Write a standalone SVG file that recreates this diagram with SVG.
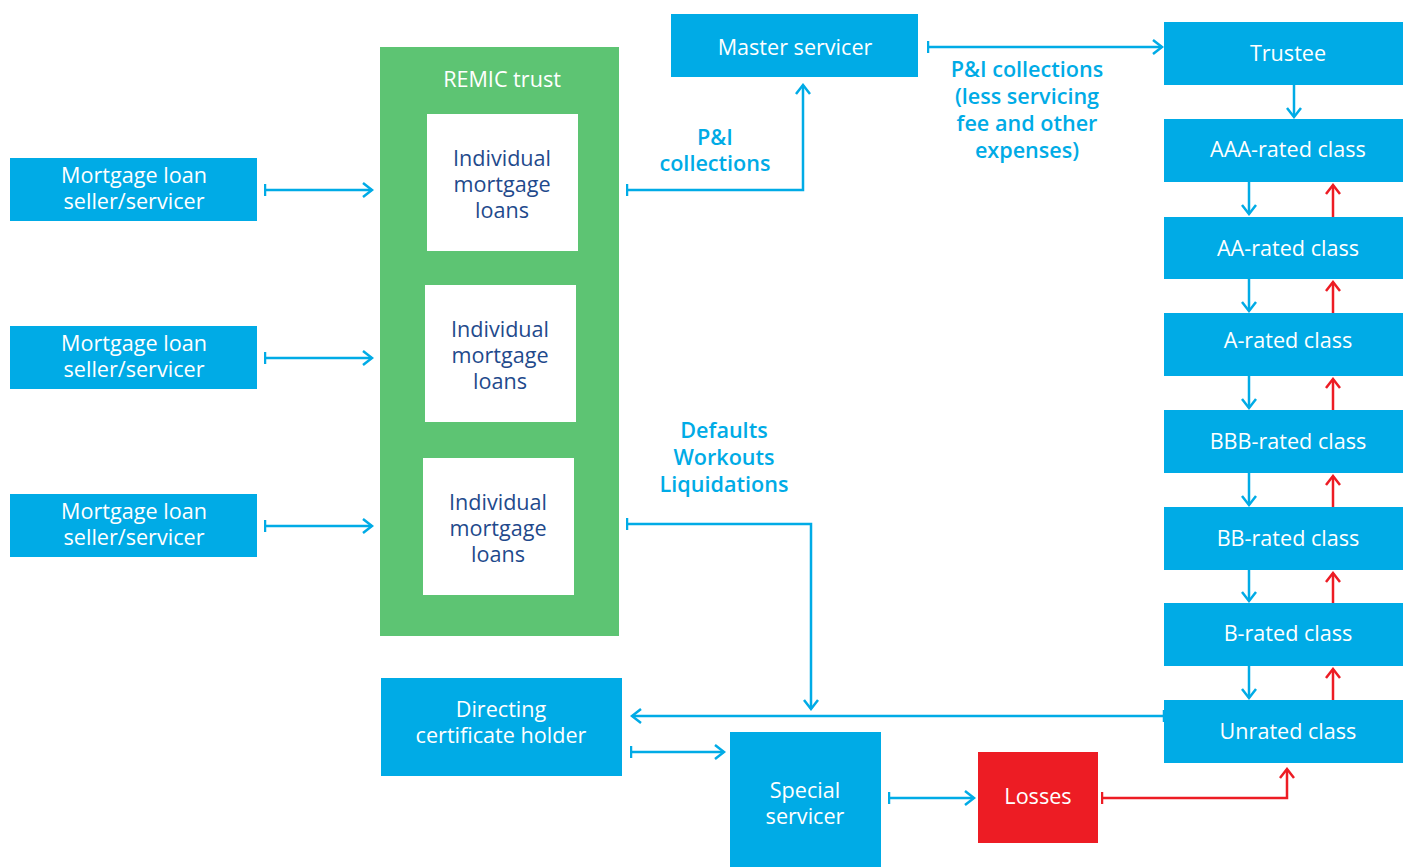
<svg xmlns="http://www.w3.org/2000/svg" width="1403" height="867" viewBox="0 0 1403 867">
<defs>
<style>
.b{fill:#00abe6}
.t{font-family:"Open Sans","Noto Sans",sans-serif;font-size:21.6px;fill:#fff;text-anchor:middle}
.n{font-family:"Open Sans","Noto Sans",sans-serif;font-size:21.6px;fill:#1f4a8c;text-anchor:middle}
.l{font-family:"Open Sans","Noto Sans",sans-serif;font-size:21.6px;font-weight:600;fill:#00abe6;text-anchor:middle}
.c{fill:none;stroke:#00abe6;stroke-width:2.5}
.r{fill:none;stroke:#ed1c24;stroke-width:2.5}
</style>
<marker id="ab" markerWidth="12" markerHeight="16" refX="10" refY="8" orient="auto" markerUnits="userSpaceOnUse"><path d="M1,1 L10,8 L1,15" fill="none" stroke="#00abe6" stroke-width="2.5"/></marker>
<marker id="ar" markerWidth="12" markerHeight="16" refX="10" refY="8" orient="auto" markerUnits="userSpaceOnUse"><path d="M1,1 L10,8 L1,15" fill="none" stroke="#ed1c24" stroke-width="2.5"/></marker>
<marker id="tb" markerWidth="4" markerHeight="16" refX="1.5" refY="8" orient="auto" markerUnits="userSpaceOnUse"><path d="M1.5,2 L1.5,14" stroke="#00abe6" stroke-width="2.5"/></marker>
<marker id="tr" markerWidth="4" markerHeight="16" refX="1.5" refY="8" orient="auto" markerUnits="userSpaceOnUse"><path d="M1.5,2 L1.5,14" stroke="#ed1c24" stroke-width="2.5"/></marker>
</defs>
<rect width="1403" height="867" fill="#fff"/>
<g id="seller1"><rect class="b" x="10" y="158" width="247" height="63"/><text class="t" x="134" y="183">Mortgage loan</text><text class="t" x="134" y="209">seller/servicer</text></g>
<g id="seller2"><rect class="b" x="10" y="326" width="247" height="63"/><text class="t" x="134" y="351">Mortgage loan</text><text class="t" x="134" y="377">seller/servicer</text></g>
<g id="seller3"><rect class="b" x="10" y="494" width="247" height="63"/><text class="t" x="134" y="519">Mortgage loan</text><text class="t" x="134" y="545">seller/servicer</text></g>
<g id="remic"><rect x="380" y="47" width="239" height="589" fill="#5dc473"/><text class="t" x="502" y="87">REMIC trust</text>
<rect x="427" y="114" width="151" height="137" fill="#fff"/><text class="n" x="502" y="166">Individual</text><text class="n" x="502" y="192">mortgage</text><text class="n" x="502" y="218">loans</text>
<rect x="425" y="285" width="151" height="137" fill="#fff"/><text class="n" x="500" y="337">Individual</text><text class="n" x="500" y="363">mortgage</text><text class="n" x="500" y="389">loans</text>
<rect x="423" y="458" width="151" height="137" fill="#fff"/><text class="n" x="498" y="510">Individual</text><text class="n" x="498" y="536">mortgage</text><text class="n" x="498" y="562">loans</text></g>
<g id="master"><rect class="b" x="671" y="14" width="247" height="63"/><text class="t" x="795" y="55">Master servicer</text></g>
<g id="trustee"><rect class="b" x="1164" y="22" width="239" height="63"/><text class="t" x="1288" y="61">Trustee</text></g>
<g id="aaa"><rect class="b" x="1164" y="119" width="239" height="63"/><text class="t" x="1288" y="157">AAA-rated class</text></g>
<g id="aa"><rect class="b" x="1164" y="217" width="239" height="62"/><text class="t" x="1288" y="256">AA-rated class</text></g>
<g id="a"><rect class="b" x="1164" y="313" width="239" height="63"/><text class="t" x="1288" y="348">A-rated class</text></g>
<g id="bbb"><rect class="b" x="1164" y="410" width="239" height="63"/><text class="t" x="1288" y="449">BBB-rated class</text></g>
<g id="bb"><rect class="b" x="1164" y="507" width="239" height="63"/><text class="t" x="1288" y="546">BB-rated class</text></g>
<g id="b"><rect class="b" x="1164" y="603" width="239" height="63"/><text class="t" x="1288" y="641">B-rated class</text></g>
<g id="unrated"><rect class="b" x="1164" y="700" width="239" height="63"/><text class="t" x="1288" y="739">Unrated class</text></g>
<g id="directing"><rect class="b" x="381" y="678" width="241" height="98"/><text class="t" x="501" y="717">Directing</text><text class="t" x="501" y="743">certificate holder</text></g>
<g id="special"><rect class="b" x="730" y="732" width="151" height="135"/><text class="t" x="805" y="798">Special</text><text class="t" x="805" y="824">servicer</text></g>
<g id="losses"><rect x="978" y="752" width="120" height="91" fill="#ed1c24"/><text class="t" x="1038" y="804">Losses</text></g>
<g id="connectors">
<path class="c" d="M265,190 H372" marker-start="url(#tb)" marker-end="url(#ab)"/>
<path class="c" d="M265,358 H372" marker-start="url(#tb)" marker-end="url(#ab)"/>
<path class="c" d="M265,526 H372" marker-start="url(#tb)" marker-end="url(#ab)"/>
<path class="c" d="M627,190 H803 V85" marker-start="url(#tb)" marker-end="url(#ab)"/>
<path class="c" d="M928,47 H1162" marker-start="url(#tb)" marker-end="url(#ab)"/>
<path class="c" d="M1294,85 V117" marker-end="url(#ab)"/>
<path class="c" d="M1249,182 V214" marker-end="url(#ab)"/>
<path class="c" d="M1249,279 V311" marker-end="url(#ab)"/>
<path class="c" d="M1249,376 V408" marker-end="url(#ab)"/>
<path class="c" d="M1249,473 V505" marker-end="url(#ab)"/>
<path class="c" d="M1249,570 V601" marker-end="url(#ab)"/>
<path class="c" d="M1249,666 V698" marker-end="url(#ab)"/>
<path class="r" d="M1333,217 V185" marker-end="url(#ar)"/>
<path class="r" d="M1333,313 V282" marker-end="url(#ar)"/>
<path class="r" d="M1333,410 V379" marker-end="url(#ar)"/>
<path class="r" d="M1333,507 V476" marker-end="url(#ar)"/>
<path class="r" d="M1333,603 V573" marker-end="url(#ar)"/>
<path class="r" d="M1333,700 V669" marker-end="url(#ar)"/>
<path class="c" d="M627,524 H811 V709" marker-start="url(#tb)" marker-end="url(#ab)"/>
<path class="c" d="M1164,716 H632" marker-start="url(#tb)" marker-end="url(#ab)"/>
<path class="c" d="M631,752 H724" marker-start="url(#tb)" marker-end="url(#ab)"/>
<path class="c" d="M889,798 H974" marker-start="url(#tb)" marker-end="url(#ab)"/>
<path class="r" d="M1102,798 H1287 V769" marker-start="url(#tr)" marker-end="url(#ar)"/>
<text class="l" x="715" y="145">P&amp;I</text><text class="l" x="715" y="171">collections</text>
<text class="l" x="1027" y="77">P&amp;I collections</text><text class="l" x="1027" y="104">(less servicing</text><text class="l" x="1027" y="131">fee and other</text><text class="l" x="1027" y="158">expenses)</text>
<text class="l" x="724" y="438">Defaults</text><text class="l" x="724" y="465">Workouts</text><text class="l" x="724" y="492">Liquidations</text>
</g>
</svg>
